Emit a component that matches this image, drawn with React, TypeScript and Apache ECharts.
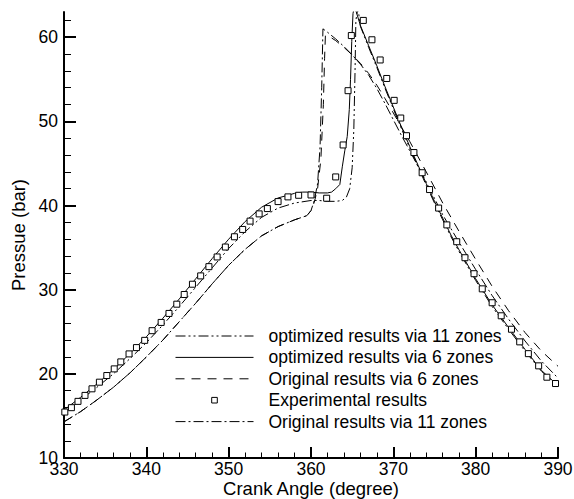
import React, { useEffect, useRef } from 'react';
import * as echarts from 'echarts';

// ---------- data ----------
const opt11Angle = [330, 332, 334, 336, 338, 340, 342, 344, 346, 348, 350, 352, 354, 356, 358, 360, 361, 362, 363, 363.8, 364.3, 364.7, 365.0, 365.2, 365.35, 365.45, 365.7, 366, 367, 368, 369, 370, 371, 372, 373, 374, 375, 376, 377, 378, 380, 382, 384, 386, 388, 390];
const opt11Pressure = [15.4, 16.9, 18.4, 20.0, 21.8, 23.7, 25.8, 28.0, 30.3, 32.6, 34.9, 36.9, 38.6, 39.7, 40.3, 40.6, 40.6, 40.5, 40.5, 40.6, 41.0, 42.0, 44.5, 49.0, 56.0, 62.0, 63.5, 61.3, 58.8, 56.4, 53.9, 51.5, 49.1, 46.8, 44.6, 42.4, 40.3, 38.3, 36.3, 34.5, 31.1, 28.0, 25.3, 22.7, 20.3, 18.5];

const opt6Angle = [330, 332, 334, 336, 338, 340, 342, 344, 346, 348, 350, 352, 354, 356, 358, 359, 360, 361, 362, 362.5, 363, 363.5, 363.8, 364.1, 364.4, 364.65, 364.8, 364.95, 365.1, 365.25, 365.5, 366, 367, 368, 369, 370, 371, 372, 373, 374, 375, 376, 377, 378, 380, 382, 384, 386, 388, 390];
const opt6Pressure = [15.7, 17.2, 18.8, 20.5, 22.4, 24.4, 26.6, 28.9, 31.3, 33.7, 36.0, 38.1, 39.8, 40.9, 41.45, 41.6, 41.6, 41.5, 41.5, 41.6, 42.0, 42.5, 44.6, 46.5, 48.2, 51.4, 55.0, 59.5, 62.8, 63.6, 63.0, 61.4, 59.0, 56.6, 54.1, 51.7, 49.3, 47.0, 44.8, 42.6, 40.5, 38.5, 36.5, 34.7, 31.3, 28.2, 25.5, 22.9, 20.4, 18.6];

const orig6Angle = [330, 332, 334, 336, 338, 340, 342, 344, 346, 348, 350, 352, 354, 356, 358, 359.5, 360.0, 360.4, 360.8, 361.2, 361.5, 361.65, 361.75, 362.2, 363, 364, 365, 366, 367, 368, 369, 370, 371, 372, 374, 376, 378, 380, 382, 384, 386, 388, 390];
const orig6Pressure = [14.3, 15.5, 16.9, 18.4, 20.1, 22.0, 24.0, 26.2, 28.4, 30.7, 32.9, 34.8, 36.4, 37.5, 38.3, 38.8, 39.4, 40.4, 42.0, 45.5, 52.0, 57.5, 60.2, 60.1, 59.6, 58.8, 57.9, 56.9, 55.7, 54.3, 52.7, 51.0, 49.3, 47.6, 44.0, 40.3, 36.9, 33.6, 30.4, 27.5, 24.9, 22.7, 20.9];

const expAngle = [330.1, 330.9, 331.7, 332.55, 333.4, 334.3, 335.2, 336.1, 336.9, 337.9, 338.8, 339.8, 340.7, 341.8, 342.75, 343.7, 344.6, 345.6, 346.6, 347.6, 348.6, 349.6, 350.7, 351.7, 352.6, 353.7, 354.7, 356.0, 357.2, 358.5, 360.0, 361.9, 363.0, 363.9, 364.5, 364.9, 366.35, 367.4, 368.4, 369.2, 370.1, 370.9, 371.6, 372.5, 373.5, 374.4, 375.5, 376.5, 377.7, 378.7, 379.8, 380.8, 382.0, 383.1, 384.35, 385.35, 386.4, 387.65, 388.65, 389.7];
const expPressure = [15.46, 15.98, 16.73, 17.44, 18.22, 19.01, 19.8, 20.59, 21.42, 22.37, 23.12, 23.98, 25.13, 26.11, 27.18, 28.28, 29.43, 30.65, 31.64, 32.74, 33.89, 35.07, 36.29, 37.16, 38.15, 39.01, 39.64, 40.47, 41.03, 41.22, 41.26, 40.87, 43.4, 47.2, 53.65, 60.2, 62.0, 59.7, 57.3, 55.1, 52.5, 50.4, 48.3, 46.3, 43.9, 41.9, 39.7, 37.7, 35.7, 33.8, 31.9, 30.1, 28.45, 26.9, 25.3, 23.8, 22.4, 20.95, 19.6, 18.85];

const orig11Angle = [330, 332, 334, 336, 338, 340, 342, 344, 346, 348, 350, 352, 354, 356, 358, 359.5, 360.0, 360.4, 360.8, 361.1, 361.3, 361.45, 362, 363, 364, 365, 366, 367, 368, 369, 370, 371, 372, 374, 376, 378, 380, 382, 384, 386, 388, 390];
const orig11Pressure = [14.3, 15.5, 16.9, 18.4, 20.1, 22.0, 24.0, 26.2, 28.4, 30.7, 32.9, 34.8, 36.4, 37.5, 38.3, 38.8, 39.4, 40.6, 42.6, 47.0, 54.0, 61.0, 60.6, 59.8, 58.9, 57.9, 56.8, 55.5, 53.9, 52.1, 50.2, 48.3, 46.5, 42.8, 38.9, 35.6, 32.4, 29.3, 26.5, 23.9, 21.5, 19.5];

const seriesNames = [
  'optimized results via 11 zones',
  'optimized results via 6 zones',
  'Original results via 6 zones',
  'Experimental results',
  'Original results via 11 zones',
];

const xTicks = { min: 330, max: 390, interval: 10 };
const yRange = { min: 10, max: 63 };

// ---------- styles ----------
const FONT = 'Liberation Sans, Arial, Helvetica, sans-serif';
const W = 574;
const H = 499;
const GRID_LEFT = 64;
const GRID_TOP = 12;
const GRID_RIGHT = 16;
const GRID_BOTTOM = 41;
const DASH_DOT_DOT = [10, 3, 2, 3, 2, 3];
const DASH_DOT = [10, 3, 2, 3];
const DASHED = [9, 7];

const zip = (a: number[], b: number[]) => a.map((v, i) => [v, b[i]]);

export default function App() {
  const ref = useRef<HTMLDivElement>(null);

  useEffect(() => {
    if (!ref.current) return;
    const chart = echarts.init(ref.current, null, { renderer: 'svg' });

    const plotH = H - GRID_TOP - GRID_BOTTOM;
    const pxPerUnit = plotH / (yRange.max - yRange.min);
    const gridBase = { left: GRID_LEFT, right: GRID_RIGHT, bottom: GRID_BOTTOM, outerBoundsMode: 'none' };

    const hiddenX = (gridIndex: number) => ({
      type: 'value', gridIndex, min: xTicks.min, max: xTicks.max, show: false,
    });

    const lineSeries = (name: string, data: number[][], dash: any) => ({
      name,
      type: 'line',
      xAxisIndex: 0,
      yAxisIndex: 0,
      data,
      symbol: 'none',
      showSymbol: false,
      smooth: false,
      clip: true,
      lineStyle: { color: '#000', width: 1, type: dash },
      itemStyle: { color: '#000' },
      z: 3,
    });

    const option: any = {
      animation: false,
      backgroundColor: '#fff',
      grid: [
        { ...gridBase, top: GRID_TOP },
        { ...gridBase, top: GRID_TOP + (yRange.max - 62) * pxPerUnit },
        { ...gridBase, top: GRID_TOP + (yRange.max - 60) * pxPerUnit },
      ],
      xAxis: [
        {
          type: 'value',
          gridIndex: 0,
          min: xTicks.min,
          max: xTicks.max,
          interval: xTicks.interval,
          name: 'Crank Angle (degree)',
          nameLocation: 'middle',
          nameGap: 21,
          nameMoveOverlap: false,
          nameTextStyle: { fontSize: 18.5, color: '#000', fontFamily: FONT, lineHeight: 18 },
          axisLine: { show: true, onZero: false, lineStyle: { color: '#000', width: 2 } },
          axisTick: { show: true, inside: true, length: 11, lineStyle: { color: '#000', width: 2 } },
          minorTick: { show: true, splitNumber: 5, length: 5.5, lineStyle: { color: '#000', width: 1 } },
          axisLabel: { fontSize: 17.5, color: '#000', fontFamily: FONT, margin: 2 },
          splitLine: { show: false },
        },
        hiddenX(1),
        hiddenX(2),
      ],
      yAxis: [
        {
          type: 'value',
          gridIndex: 0,
          min: yRange.min,
          max: yRange.max,
          name: 'Pressue (bar)',
          nameLocation: 'middle',
          nameGap: 36,
          nameMoveOverlap: false,
          nameTextStyle: { fontSize: 18.5, color: '#000', fontFamily: FONT },
          axisLine: { show: true, onZero: false, lineStyle: { color: '#000', width: 2 } },
          axisTick: { show: false },
          axisLabel: { show: false },
          splitLine: { show: false },
        },
        {
          type: 'value',
          gridIndex: 1,
          min: yRange.min,
          max: 62,
          interval: 2,
          axisLine: { show: false },
          axisTick: { show: true, inside: true, length: 7, lineStyle: { color: '#000', width: 1 } },
          axisLabel: { show: false },
          splitLine: { show: false },
        },
        {
          type: 'value',
          gridIndex: 2,
          min: yRange.min,
          max: 60,
          interval: 10,
          axisLine: { show: false },
          axisTick: { show: true, inside: true, length: 12, lineStyle: { color: '#000', width: 2 } },
          axisLabel: { show: true, fontSize: 17.5, color: '#000', fontFamily: FONT, margin: 6 },
          splitLine: { show: false },
        },
      ],
      legend: {
        orient: 'vertical',
        left: 175,
        top: 327,
        padding: 0,
        itemWidth: 78,
        itemHeight: 7,
        itemGap: 3.4,
        selectedMode: false,
        textStyle: { fontSize: 17.5, color: '#000', fontFamily: FONT, lineHeight: 17.5, padding: [0, 0, 0, 10] },
        data: [
          { name: seriesNames[0], itemStyle: { opacity: 0 }, lineStyle: { type: DASH_DOT_DOT, width: 1, color: '#000' } },
          { name: seriesNames[1], itemStyle: { opacity: 0 }, lineStyle: { type: 'solid', width: 1, color: '#000' } },
          { name: seriesNames[2], itemStyle: { opacity: 0 }, lineStyle: { type: DASHED, width: 1, color: '#000' } },
          { name: seriesNames[3], itemStyle: { color: '#fff', borderColor: '#000', borderWidth: 1 }, lineStyle: { opacity: 0, width: 0 } },
          { name: seriesNames[4], itemStyle: { opacity: 0 }, lineStyle: { type: DASH_DOT, width: 1, color: '#000' } },
        ],
      },
      series: [
        lineSeries(seriesNames[0], zip(opt11Angle, opt11Pressure), DASH_DOT_DOT),
        lineSeries(seriesNames[1], zip(opt6Angle, opt6Pressure), 'solid'),
        lineSeries(seriesNames[2], zip(orig6Angle, orig6Pressure), DASHED),
        {
          name: seriesNames[3],
          type: 'line',
          xAxisIndex: 0,
          yAxisIndex: 0,
          data: zip(expAngle, expPressure),
          symbol: 'rect',
          symbolSize: 6,
          showSymbol: true,
          showAllSymbol: true,
          lineStyle: { opacity: 0, width: 0 },
          itemStyle: { color: '#fff', borderColor: '#000', borderWidth: 1 },
          z: 5,
        },
        lineSeries(seriesNames[4], zip(orig11Angle, orig11Pressure), DASH_DOT),
      ],
    };

    chart.setOption(option);
    return () => chart.dispose();
  }, []);

  return <div ref={ref} style={{ position: 'absolute', left: 0, top: 0, width: W, height: H, background: '#fff' }} />;
}
